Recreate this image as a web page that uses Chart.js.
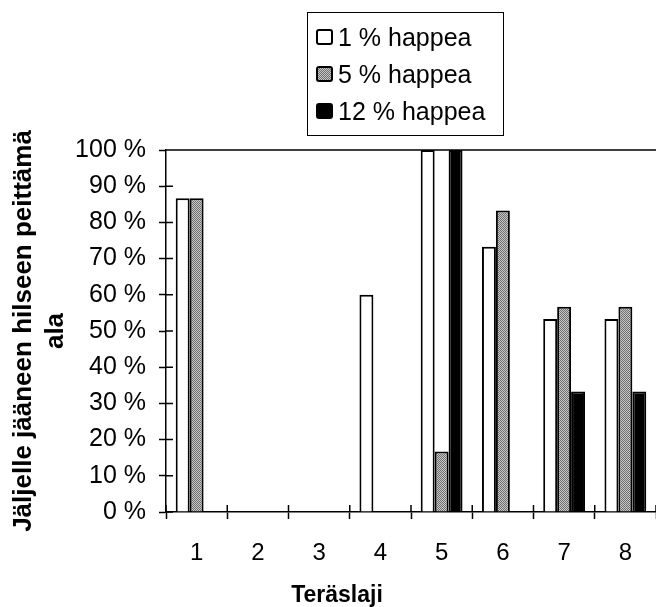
<!DOCTYPE html>
<html>
<head>
<meta charset="utf-8">
<script src="https://cdn.jsdelivr.net/npm/chart.js@4/dist/chart.umd.min.js"></script>
<style>
  body { margin: 0; background: #fff; }
  #wrap { position: relative; width: 656px; height: 607px; overflow: hidden; }
  #legend {
    position: absolute; left: 307px; top: 12px; width: 195px; height: 122px;
    border: 1px solid #000; font-family: 'Liberation Sans', Arial, sans-serif; font-size: 25px;
  }
  #legend div { position: absolute; left: 8px; height: 30px; line-height: 30px; white-space: nowrap; }
  #legend span.sw { display: inline-block; width: 17px; height: 16px; border: 2px solid #000; border-radius: 3px;
    vertical-align: middle; margin-right: 5px; margin-top: -4px; box-sizing: border-box; }
</style>
</head>
<body>
<div id="wrap">
  <canvas id="chart" width="656" height="607"></canvas>
  <div id="legend"></div>
</div>
<script>
// data
const categories = ['1', '2', '3', '4', '5', '6', '7', '8'];
const happea1 = [86.7, 0, 0, 60, 100, 73.3, 53.3, 53.3];
const happea5 = [86.7, 0, 0, 0, 16.7, 83.3, 56.7, 56.7];
const happea12 = [0, 0, 0, 0, 100, 0, 33.3, 33.3];
const seriesLabels = ['1 % happea', '5 % happea', '12 % happea'];
const yTicks = [0, 10, 20, 30, 40, 50, 60, 70, 80, 90, 100];

const FONT = "'Liberation Sans', Arial, sans-serif";

// stippled grey like the scan
const pc = document.createElement('canvas');
pc.width = 2; pc.height = 2;
const pctx = pc.getContext('2d');
pctx.fillStyle = '#c8c8c8'; pctx.fillRect(0, 0, 2, 2);
pctx.fillStyle = '#6e6e6e'; pctx.fillRect(0, 0, 1, 1); pctx.fillRect(1, 1, 1, 1);
const grey = pctx.createPattern(pc, 'repeat');

// ticks that cross the axes + the top frame line
const frame = {
  id: 'frame',
  afterDraw(chart) {
    const { ctx, chartArea: a, scales: { x, y } } = chart;
    ctx.save();
    ctx.strokeStyle = '#000';
    ctx.lineWidth = 1.5;
    ctx.beginPath();
    ctx.moveTo(a.left, a.top); ctx.lineTo(a.right, a.top);
    yTicks.forEach(v => {
      const py = y.getPixelForValue(v);
      ctx.moveTo(a.left, py); ctx.lineTo(a.left + 7, py);
    });
    const step = x.getPixelForTick(1) - x.getPixelForTick(0);
    for (let i = 0; i <= categories.length; i++) {
      const px = x.getPixelForTick(0) - step / 2 + i * step;
      ctx.moveTo(px, a.bottom); ctx.lineTo(px, a.bottom - 7);
    }
    ctx.stroke();
    ctx.restore();
  }
};

const ctx = document.getElementById('chart').getContext('2d');
const chart = new Chart(ctx, {
  type: 'bar',
  data: {
    labels: categories,
    datasets: [
      { label: seriesLabels[0], data: happea1, backgroundColor: '#ffffff' },
      { label: seriesLabels[1], data: happea5, backgroundColor: grey, swatch: 'repeating-conic-gradient(#6e6e6e 0 25%, #c8c8c8 0 50%) 0 0/2px 2px' },
      { label: seriesLabels[2], data: happea12, backgroundColor: '#000000' }
    ].map(d => Object.assign(d, {
      borderColor: '#000', borderWidth: 2, barPercentage: 1, categoryPercentage: 0.683
    }))
  },
  options: {
    responsive: false,
    animation: false,
    devicePixelRatio: 1,
    layout: { padding: { top: 150, left: 16, right: -2, bottom: 0 } },
    plugins: {
      legend: { display: false },
      tooltip: { enabled: false },
      title: {
        display: true, position: 'bottom', text: 'Teräslaji', color: '#000',
        font: { family: FONT, size: 23, weight: 'bold', lineHeight: 1 },
        padding: { top: 0, bottom: 0 }
      }
    },
    scales: {
      x: {
        afterFit: s => { s.height = 72; },
        grid: { drawOnChartArea: false, tickLength: 7, tickColor: '#000', tickWidth: 1.5 },
        border: { color: '#000', width: 1.5 },
        ticks: { color: '#000', padding: 20, font: { family: FONT, size: 24 } }
      },
      y: {
        min: 0, max: 100,
        afterFit: s => { s.width = 150; },
        afterBuildTicks: s => { s.ticks = yTicks.map(v => ({ value: v })); },
        grid: { drawOnChartArea: false, tickLength: 7, tickColor: '#000', tickWidth: 1.5 },
        border: { color: '#000', width: 1.5 },
        ticks: { color: '#000', padding: 13, font: { family: FONT, size: 25 }, callback: v => v + ' %' },
        title: {
          display: true, color: '#000',
          text: ['Jäljelle jääneen hilseen peittämä', 'ala'],
          font: { family: FONT, size: 26, weight: 'bold', lineHeight: '32px' },
          padding: { top: -8, bottom: 0 }
        }
      }
    }
  },
  plugins: [frame]
});

// legend built from the datasets
const lg = document.getElementById('legend');
chart.data.datasets.forEach((d, i) => {
  const row = document.createElement('div');
  row.style.top = (9 + i * 37) + 'px';
  const sw = document.createElement('span');
  sw.className = 'sw';
  sw.style.background = d.swatch || d.backgroundColor;
  row.appendChild(sw);
  row.appendChild(document.createTextNode(d.label));
  lg.appendChild(row);
});
</script>
</body>
</html>
